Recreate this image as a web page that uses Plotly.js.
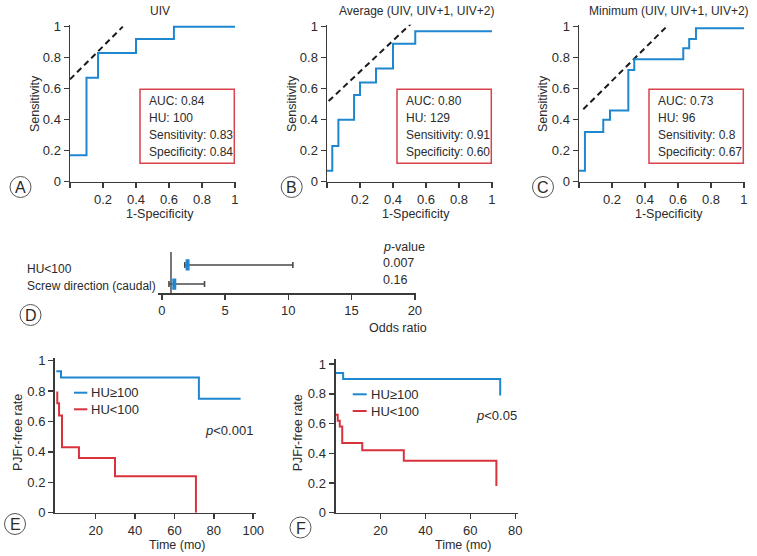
<!DOCTYPE html>
<html>
<head>
<meta charset="utf-8">
<script src="https://cdn.plot.ly/plotly-3.0.1.min.js"></script>
<style>
  html, body { margin: 0; padding: 0; background: #fff; }
  #chart { width: 757px; height: 556px; }
</style>
</head>
<body>
<div id="chart"></div>
<script>
// ROC curves (x = 1-specificity, y = sensitivity), step points
var rocA_x = [0, 0.10, 0.17, 0.40, 0.63, 1.0];
var rocA_y = [0.17, 0.67, 0.83, 0.92, 1.0, 1.0];
var rocB_x = [0, 0.032, 0.069, 0.164, 0.20, 0.297, 0.40, 0.535, 1.0];
var rocB_y = [0.07, 0.23, 0.40, 0.56, 0.64, 0.73, 0.89, 0.97, 0.97];
var rocC_x = [0, 0.036, 0.147, 0.188, 0.299, 0.335, 0.632, 0.668, 0.709, 1.0];
var rocC_y = [0.07, 0.32, 0.40, 0.46, 0.72, 0.79, 0.86, 0.92, 0.99, 0.99];

// tangent (dashed) lines
var tanA_x = [0, 0.32], tanA_y = [0.66, 1.0];
var tanB_x = [0.01, 0.51], tanB_y = [0.52, 1.02];
var tanC_x = [0.026, 0.525], tanC_y = [0.467, 0.994];

var rocTitles = ['UIV', 'Average (UIV, UIV+1, UIV+2)', 'Minimum (UIV, UIV+1, UIV+2)'];
var rocStats = [
  ['AUC: 0.84', 'HU: 100', 'Sensitivity: 0.83', 'Specificity: 0.84'],
  ['AUC: 0.80', 'HU: 129', 'Sensitivity: 0.91', 'Specificity: 0.60'],
  ['AUC: 0.73', 'HU: 96', 'Sensitivity: 0.8', 'Specificity: 0.67']
];

// forest plot
var forestLabels = ['HU<100', 'Screw direction (caudal)'];
var forestOR = [2.04, 0.99];
var forestLow = [1.82, 0.57];
var forestHigh = [10.36, 3.38];
var forestP = ['0.007', '0.16'];
var refOR = 0.73;

// Kaplan-Meier
var kmE_hi_x = [0, 2.4, 72.4, 93.6];
var kmE_hi_y = [0.93, 0.89, 0.75, 0.75];
var kmE_lo_x = [0, 0.5, 1.4, 2.9, 11.5, 29.8, 70.9];
var kmE_lo_y = [0.79, 0.72, 0.64, 0.43, 0.36, 0.24, 0];
var kmF_hi_x = [0, 3.4, 73.3];
var kmF_hi_y = [0.94, 0.90, 0.79];
var kmF_lo_x = [0, 1.0, 1.9, 3.0, 11.9, 30.4, 71.6];
var kmF_lo_y = [0.66, 0.62, 0.58, 0.47, 0.42, 0.35, 0.18];

var W = 757, H = 556;
var FONT = '"Liberation Sans", Arial, sans-serif';
var TXT = '#2b2b2b';
var BLUE = '#1f87cf';
var RED = '#d8333d';
var AX = '#3a3a3a';

function dx(a, b) { return [a / W, b / W]; }
function dy(top, bottom) { return [1 - bottom / H, 1 - top / H]; }
function px(x) { return x / W; }
function py(y) { return 1 - y / H; }
function f(size) { return {family: FONT, size: size, color: TXT}; }

function axisBase(extra) {
  var a = {
    showline: true, linecolor: AX, linewidth: 1.5,
    ticks: 'outside', ticklen: 5, tickwidth: 1.5, tickcolor: AX,
    showgrid: false, zeroline: false, fixedrange: true,
    tickfont: f(13)
  };
  for (var k in extra) a[k] = extra[k];
  return a;
}

var data = [];
var rocX = [rocA_x, rocB_x, rocC_x], rocY = [rocA_y, rocB_y, rocC_y];
var tanX = [tanA_x, tanB_x, tanC_x], tanY = [tanA_y, tanB_y, tanC_y];
for (var i = 0; i < 3; i++) {
  var xa = i === 0 ? 'x' : 'x' + (i + 1), ya = i === 0 ? 'y' : 'y' + (i + 1);
  data.push({x: tanX[i], y: tanY[i], xaxis: xa, yaxis: ya, mode: 'lines',
    line: {color: '#1a1a1a', width: 2, dash: '6px,4px'}, hoverinfo: 'skip'});
  data.push({x: rocX[i], y: rocY[i], xaxis: xa, yaxis: ya, mode: 'lines',
    line: {color: BLUE, width: 2, shape: 'hv'}});
}

// forest
var rows = [1, 0];
data.push({
  x: forestOR, y: rows, xaxis: 'x4', yaxis: 'y4', mode: 'markers',
  marker: {symbol: 'line-ns', size: 8, color: BLUE, line: {color: BLUE, width: 4}},
  error_x: {type: 'data', symmetric: false,
    array: forestHigh.map(function (h, k) { return h - forestOR[k]; }),
    arrayminus: forestLow.map(function (l, k) { return forestOR[k] - l; }),
    color: '#4a4a4a', thickness: 1.6, width: 3}
});

// KM
data.push({x: kmE_hi_x, y: kmE_hi_y, xaxis: 'x5', yaxis: 'y5', mode: 'lines', line: {color: BLUE, width: 2, shape: 'hv'}});
data.push({x: kmE_lo_x, y: kmE_lo_y, xaxis: 'x5', yaxis: 'y5', mode: 'lines', line: {color: RED, width: 2, shape: 'hv'}});
data.push({x: kmF_hi_x, y: kmF_hi_y, xaxis: 'x6', yaxis: 'y6', mode: 'lines', line: {color: BLUE, width: 2, shape: 'hv'}});
data.push({x: kmF_lo_x, y: kmF_lo_y, xaxis: 'x6', yaxis: 'y6', mode: 'lines', line: {color: RED, width: 2, shape: 'hv'}});

var rocTickX = {tickvals: [0, 0.2, 0.4, 0.6, 0.8, 1], ticktext: ['', '0.2', '0.4', '0.6', '0.8', '1']};
var rocTickY = {tickvals: [0, 0.2, 0.4, 0.6, 0.8, 1], ticktext: ['0', '0.2', '0.4', '0.6', '0.8', '1']};

var layout = {
  width: W, height: H,
  margin: {l: 0, r: 0, t: 0, b: 0},
  paper_bgcolor: '#fff', plot_bgcolor: 'rgba(0,0,0,0)',
  showlegend: false,
  font: f(13),

  xaxis: axisBase({domain: dx(70, 235.8), range: [0, 1.005], anchor: 'y', tickvals: rocTickX.tickvals, ticktext: rocTickX.ticktext}),
  yaxis: axisBase({domain: dy(24.8, 181.7), range: [0, 1.012], anchor: 'x', tickvals: rocTickY.tickvals, ticktext: rocTickY.ticktext}),
  xaxis2: axisBase({domain: dx(327, 492.8), range: [0, 1.005], anchor: 'y2', tickvals: rocTickX.tickvals, ticktext: rocTickX.ticktext}),
  yaxis2: axisBase({domain: dy(24.8, 181.7), range: [0, 1.012], anchor: 'x2', tickvals: rocTickY.tickvals, ticktext: rocTickY.ticktext}),
  xaxis3: axisBase({domain: dx(579, 744.8), range: [0, 1.005], anchor: 'y3', tickvals: rocTickX.tickvals, ticktext: rocTickX.ticktext}),
  yaxis3: axisBase({domain: dy(24.8, 181.7), range: [0, 1.012], anchor: 'x3', tickvals: rocTickY.tickvals, ticktext: rocTickY.ticktext}),

  xaxis4: axisBase({domain: dx(157.7, 415.5), range: [-0.32, 20.05], anchor: 'y4', tickvals: [0, 5, 10, 15, 20]}),
  yaxis4: {domain: dy(252, 293), range: [-0.47, 1.68], anchor: 'x4', visible: false, fixedrange: true},

  xaxis5: axisBase({domain: dx(55, 256), range: [-0.66, 101.4], anchor: 'y5', tickvals: [20, 40, 60, 80, 100]}),
  yaxis5: axisBase({domain: dy(358.4, 512.7), range: [0, 1.015], anchor: 'x5', linewidth: 2, tickvals: [0, 0.2, 0.4, 0.6, 0.8, 1], ticktext: ['0', '0.2', '0.4', '0.6', '0.8', '1']}),
  xaxis6: axisBase({domain: dx(335.5, 517.5), range: [0, 81], anchor: 'y6', tickvals: [20, 40, 60, 80]}),
  yaxis6: axisBase({domain: dy(359.3, 512.7), range: [0, 1.033], anchor: 'x6', linewidth: 2, tickvals: [0, 0.2, 0.4, 0.6, 0.8, 1], ticktext: ['0', '0.2', '0.4', '0.6', '0.8', '1']}),

  shapes: [],
  annotations: []
};

function ann(text, x, y, o) {
  var a = {text: text, x: px(x), y: py(y), xref: 'paper', yref: 'paper', showarrow: false,
    xanchor: 'center', yanchor: 'middle', font: f(12.5)};
  for (var k in (o || {})) a[k] = o[k];
  layout.annotations.push(a);
}

// ROC decorations
var rocLeft = [70, 327, 579];
var titleCx = [160, 416, 669];
var yTitleX = [35, 292, 543];
for (var i = 0; i < 3; i++) {
  var L = rocLeft[i];
  ann(rocTitles[i], titleCx[i], 11, {font: f(12)});
  ann('1-Specificity', titleCx[i], 214, {font: f(12.5)});
  ann('Sensitivity', yTitleX[i], 104, {textangle: -90, font: f(12.5)});
  // stats box
  layout.shapes.push({type: 'rect', xref: 'paper', yref: 'paper',
    x0: px(L + 70), x1: px(L + 164.3), y0: py(163.3), y1: py(89.3),
    line: {color: '#d9434b', width: 1.5}, fillcolor: 'rgba(0,0,0,0)'});
  for (var j = 0; j < 4; j++) {
    ann(rocStats[i][j], L + 76.5, 100.7 + j * 17, {xanchor: 'left', font: f(12)});
  }
}

// forest decorations
layout.shapes.push({type: 'line', xref: 'x4', yref: 'y4 domain', x0: refOR, x1: refOR, y0: 0, y1: 1,
  line: {color: '#555', width: 1.6}});
var rowPy = [269, 286];
for (var k = 0; k < forestLabels.length; k++) {
  ann(forestLabels[k], 25, rowPy[k], {xanchor: 'left', font: f(12)});
  ann(forestP[k], 381, [263, 279.5][k], {xanchor: 'left'});
}
ann('<i>p</i>-value', 381, 246.5, {xanchor: 'left'});
ann('Odds ratio', 398, 328);

// KM decorations
ann('PJFr-free rate', 18, 433, {textangle: -90});
ann('Time (mo)', 177, 544.5);
ann('PJFr-free rate', 298.3, 433, {textangle: -90});
ann('Time (mo)', 463, 544.5);
ann('<i>p</i><0.001', 203, 430, {xanchor: 'left', font: f(13)});
ann('<i>p</i><0.05', 474, 415, {xanchor: 'left', font: f(13)});

var legs = [
  {x0: 74, x1: 87.3, y: 392.7, c: BLUE, t: 'HU≥100'},
  {x0: 74, x1: 87.3, y: 409.3, c: RED, t: 'HU<100'},
  {x0: 352.7, x1: 366.7, y: 394.3, c: BLUE, t: 'HU≥100'},
  {x0: 352.7, x1: 366.7, y: 411, c: RED, t: 'HU<100'}
];
legs.forEach(function (g) {
  layout.shapes.push({type: 'line', xref: 'paper', yref: 'paper', x0: px(g.x0), x1: px(g.x1), y0: py(g.y), y1: py(g.y),
    line: {color: g.c, width: 2}});
  ann(g.t, g.x1 + 2, g.y, {xanchor: 'left', font: f(13)});
});

// panel letters
var letters = [['A', 20.5, 187], ['B', 291.7, 187], ['C', 543, 187], ['D', 30.5, 315], ['E', 15, 524], ['F', 300.5, 527.5]];
letters.forEach(function (p) {
  var r = 10.5;
  layout.shapes.push({type: 'circle', xref: 'paper', yref: 'paper',
    x0: px(p[1] - r), x1: px(p[1] + r), y0: py(p[2] + r), y1: py(p[2] - r),
    line: {color: '#555', width: 1}});
  ann(p[0], p[1], p[2] + 0.5, {font: f(16)});
});

Plotly.newPlot('chart', data, layout, {displayModeBar: false, staticPlot: true});
</script>
</body>
</html>
